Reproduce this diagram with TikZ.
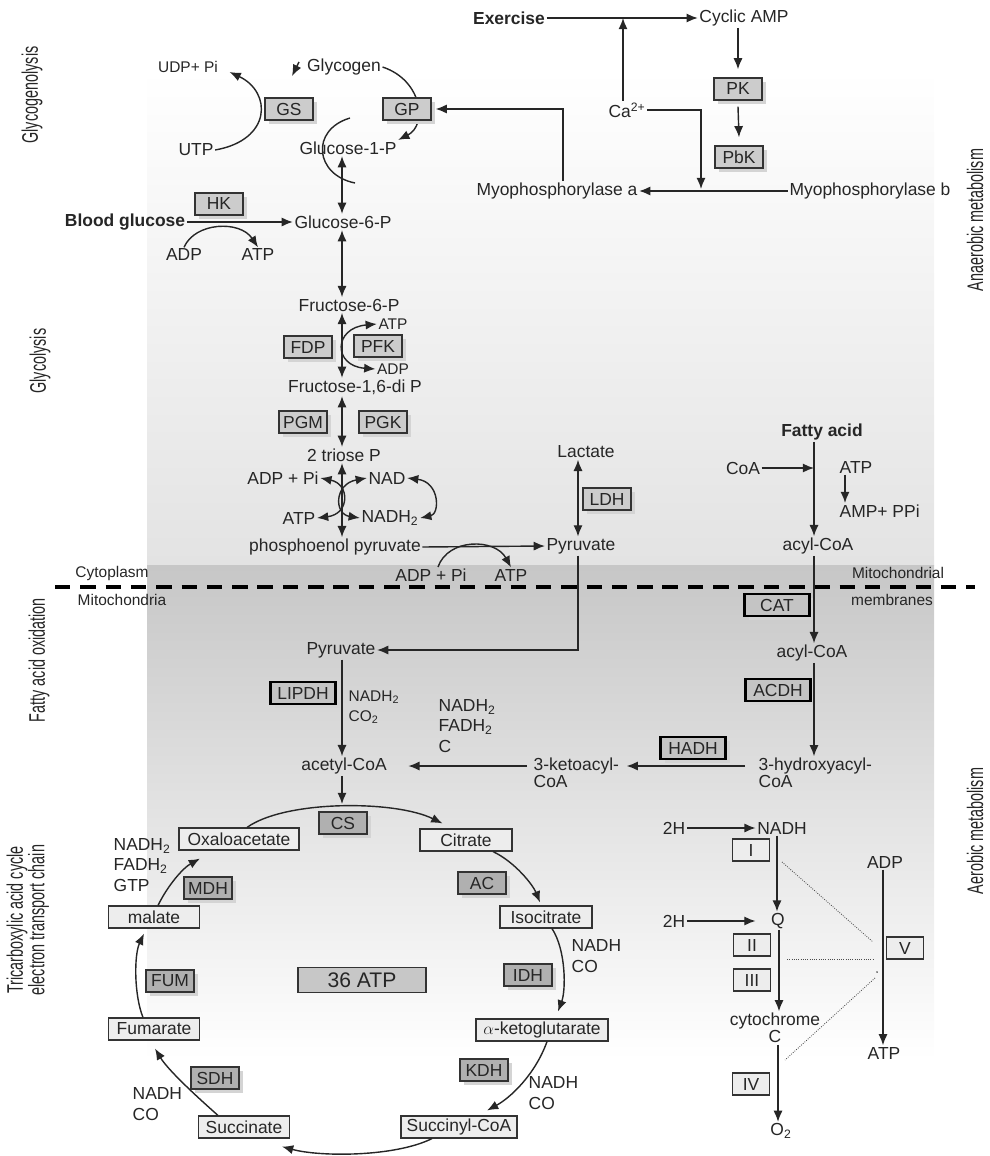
\documentclass[tikz,border=0pt]{standalone}
\usepackage{fontspec}
\setmainfont{Liberation Sans}
\usepackage{graphicx}
\usetikzlibrary{arrows.meta,positioning,shadows,calc}
\newcommand{\fmain}{\fontsize{12.4}{14.5}\selectfont}
\newcommand{\fsmall}{\fontsize{11}{14}\selectfont}
\newcommand{\fside}{\fontsize{16}{12}\selectfont}
\newcommand{\narrow}[1]{\scalebox{0.64}[1]{#1}}
\colorlet{ink}{black!85}

\begin{document}
\begin{tikzpicture}[x=0.025cm,y=-0.025cm,
  lbl/.style={inner sep=1pt,font=\fmain,text=ink},
  sml/.style={inner sep=1pt,font=\fsmall,text=ink},
  bld/.style={inner sep=1pt,font=\fmain\bfseries,text=ink},
  side/.style={rotate=90,inner sep=0pt,font=\fside,text=ink},
  enz/.style={draw=black!80,line width=0.9pt,fill=black!20,minimum width=1.2cm,minimum height=0.55cm,inner sep=1pt,font=\fmain,text=ink,
    general shadow={fill=black!17,shadow xshift=3pt,shadow yshift=-3pt}},
  enzm/.style={enz,fill=black!31},
  enzk/.style={enz,draw=black,line width=2pt,fill=black!23,minimum width=1.62cm},
  met/.style={draw=black!80,line width=0.8pt,fill=black!7,minimum height=0.55cm,inner sep=1pt,font=\fmain,text=ink},
  cplx/.style={met,minimum width=0.92cm},
  arr/.style={-{Latex[length=8pt,width=6.5pt]},line width=1pt,draw=ink},
  dbl/.style={{Latex[length=8pt,width=6.5pt]}-{Latex[length=8pt,width=6.5pt]},line width=1pt,draw=ink},
  dots/.style={densely dotted,line width=0.6pt,draw=black!70}]
  \useasboundingbox (0,0) rectangle (989,1156);
  % Background bands
  \shade[top color=white,bottom color=black!11] (147,70) rectangle (934,565);
  \shade[top color=black!22,bottom color=white] (147,565) rectangle (934,1060);
  \coordinate (dl) at (55,587); \coordinate (dr) at (975,587);
  \draw[line width=3pt,dash pattern=on 11pt off 7pt] (dl) -- (dr);
  % Side labels
  \node[side] (sgg) at (32,95) {\narrow{Glycogenolysis}};
  \node[side] (sgl) at (40,361) {\narrow{Glycolysis}};
  \node[side] (sfa) at (39,660) {\narrow{Fatty acid oxidation}};
  \node[side] (stc) at (28,920) {\narrow{\begin{tabular}{@{}c@{}}Tricarboxylic acid cycle\\electron transport chain\end{tabular}}};
  \node[side] (san) at (975,220) {\narrow{Anaerobic metabolism}};
  \node[side] (sae) at (975,831) {\narrow{Aerobic metabolism}};
  \node[sml] (cyto) at (112,573) {Cytoplasm};
  \node[sml] (mito) at (122,600) {Mitochondria};
  \node[sml] (mmb1) at (898,573) {Mitochondrial};
  \node[sml] (mmb2) at (892,600) {membranes};
  % Glycogen
  \node[sml] (udp) at (188,67) {UDP+ Pi};
  \node[lbl] (glycogen) at (344,67) {Glycogen};
  \node[lbl] (utp) at (196,150) {UTP};
  \node[lbl] (g1p) at (348,148) {Glucose-1-P};
  \draw[arr] (glycogen.east) .. controls (422,80) and (428,125) .. (g1p.north east);
  \node[enz] (gs) at (289,109) {GS};
  \node[enz] (gp) at (407,109) {GP};
  \node[enz] (hk) at (219,204) {HK};
  \node[bld] (bg) at (125,222) {Blood glucose};
  \node[lbl] (g6p) at (343,222) {Glucose-6-P};
  \node[lbl] (adp1) at (184,255) {ADP};
  \node[lbl] (atp1) at (258,255) {ATP};
  \coordinate (gsa) at (350,118); \coordinate (gsb) at (355,183);
  \draw[line width=1pt,ink] (gsa) .. controls (310,130) and (315,175) .. (gsb);
  \coordinate (gla) at (299,62); \coordinate (glb) at (292,76);
  \draw[arr] (gla) -- (glb);
  \draw[arr] (utp.east) .. controls (272,140) and (272,92) .. ($(udp.east)+(10,5)$);
  \draw[arr] (bg.east) -- (g6p.west);
  \draw[arr] (adp1.north) .. controls (195,222) and (240,220) .. (atp1.north);
  % Exercise
  \node[bld] (ex) at (509,18) {Exercise};
  \node[lbl] (camp) at (744,18) {Cyclic AMP};
  \node[lbl] (ca) at (627,110) {Ca\textsuperscript{2+}};
  \node[enz] (pk) at (738,89) {PK};
  \node[enz] (pbk) at (739,157) {PbK};
  \node[lbl] (mpa) at (557,191) {Myophosphorylase a};
  \node[lbl] (mpb) at (870,191) {Myophosphorylase b};
  \draw[arr] (ex.east) -- (camp.west);
  \coordinate (cax) at (623,0);
  \draw[arr] (ca.north -| cax) -- (ex.east -| cax);
  \coordinate (cad) at (701,189);
  \draw[arr] (ca.east) -| (cad);
  \draw[arr] (camp.south -| pk) -- ($(pk.north)+(0,-8)$);
  \draw[arr] ($(pk.south)+(0,6)$) -- ($(pbk.north)+(0,-8)$);
  \draw[arr] (mpb.west) -- (mpa.east);
  \coordinate (mpx) at (563,0);
  \draw[arr] (mpa.north -| mpx) |- ($(gp.east)+(4,0)$);
  % Glycolysis
  \node[lbl] (f6p) at (349,305) {Fructose-6-P};
  \node[sml] (atp2) at (393,324) {ATP};
  \node[enz] (fdp) at (308,347) {FDP};
  \node[enz] (pfk) at (378,346) {PFK};
  \node[sml] (adp2) at (393,369) {ADP};
  \node[lbl] (f16p) at (355,387) {Fructose-1,6-di P};
  \node[enz] (pgm) at (303,422) {PGM};
  \node[enz] (pgk) at (383,422) {PGK};
  \node[lbl] (tri) at (344,455) {2 triose P};
  \node[lbl] (adppi) at (283,478) {ADP + Pi};
  \node[lbl] (nad) at (387,478) {NAD};
  \node[lbl] (atp3) at (299,518) {ATP};
  \node[lbl] (nadh) at (390,518) {NADH\textsubscript{2}};
  \node[lbl] (pep) at (335,547) {phosphoenol pyruvate};
  \node[lbl] (adppi2) at (431,575) {ADP + Pi};
  \node[lbl] (atp4) at (511,575) {ATP};
  \node[lbl] (pyr) at (581,546) {Pyruvate};
  \node[lbl] (lac) at (586,452) {Lactate};
  \node[enz] (ldh) at (607,499) {LDH};
  \coordinate (ax) at (342,0);
  \draw[dbl] (g1p.south -| ax) -- (g6p.north -| ax);
  \draw[dbl] (g6p.south -| ax) -- (f6p.north -| ax);
  \draw[dbl] (f6p.south -| ax) -- (f16p.north -| ax);
  \draw[dbl] (f16p.south -| ax) -- (tri.north -| ax);
  \draw[dbl] (tri.south -| ax) -- (pep.north -| ax);
  \draw[dbl] (atp2.west) .. controls (333,328) and (333,366) .. (adp2.west);
  \draw[dbl] (adppi.east) .. controls (350,484) and (350,514) .. (atp3.east);
  \draw[dbl] (nad.west) .. controls (334,484) and (334,514) .. (nadh.west);
  \draw[dbl] (nad.east) .. controls (440,482) and (440,514) .. (nadh.east);
  \draw[arr] (pep.east) -- (pyr.west);
  \draw[arr] ($(adppi2.north)+(7,0)$) .. controls (448,538) and (495,538) .. (atp4.north);
  \coordinate (pyx) at (578,0);
  \draw[dbl] (lac.south -| pyx) -- (pyr.north -| pyx);
  % Fatty acid
  \node[bld] (fa) at (822,432) {Fatty acid};
  \node[lbl] (coa) at (743,468) {CoA};
  \node[lbl,anchor=west] (atp5) at (838,467) {ATP};
  \node[lbl,anchor=west] (amp) at (838,511) {AMP+ PPi};
  \node[lbl] (acyl) at (818,546) {acyl-CoA};
  \node[enzk] (cat) at (777,605) {CAT};
  \node[lbl] (acylm) at (812,653) {acyl-CoA};
  \node[enzk] (acdh) at (778,690) {ACDH};
  \node[lbl,anchor=west,align=left,font=\fontsize{12.4}{10}\selectfont] (hyd) at (757,773) {3-hydroxyacyl-\\CoA};
  \node[enzk] (hadh) at (693,748) {HADH};
  \node[lbl,anchor=west,align=left,font=\fontsize{12.4}{10}\selectfont] (keto) at (532,773) {3-ketoacyl-\\CoA};
  \coordinate (fax) at (814,0);
  \draw[arr] (fa.south -| fax) -- (acyl.north -| fax);
  \draw[arr] (coa.east) -- (coa.east -| fax);
  \coordinate (ampx) at (845,0);
  \draw[arr] (atp5.south -| ampx) -- (amp.north -| ampx);
  \draw[arr] (acyl.south -| fax) -- (acylm.north -| fax);
  \draw[arr] (acylm.south -| fax) -- (hyd.north -| fax);
  % Pyruvate oxidation
  \node[lbl] (pyrm) at (341,650) {Pyruvate};
  \node[enzk] (lipdh) at (303,693) {LIPDH};
  \node[sml,anchor=west,align=left] (red1) at (347,707) {NADH\textsubscript{2}\\CO\textsubscript{2}};
  \node[lbl,anchor=west,align=left] (red2) at (437,726) {NADH\textsubscript{2}\\FADH\textsubscript{2}\\C};
  \node[lbl] (acetyl) at (344,766) {acetyl-CoA};
  \draw[arr] (pyr.south -| pyx) |- (pyrm.east);
  \draw[arr] (pyrm.south -| ax) -- (acetyl.north -| ax);
  \coordinate (hky) at (0,766);
  \draw[arr] ($(hyd.west |- hky)+(-12,0)$) -- ($(keto.east |- hky)+(6,0)$);
  \draw[arr] ($(keto.west |- hky)+(-5,0)$) -- ($(acetyl.east)+(20,0)$);
  \coordinate (cstop) at (342,804);
  \draw[arr] (acetyl.south -| ax) -- (cstop);
  % TCA cycle
  \node[met,minimum width=3cm] (oaa) at (239,839) {Oxaloacetate};
  \node[enzm] (cs) at (343,823) {CS};
  \node[met,minimum width=2.3cm] (cit) at (466,840) {Citrate};
  \node[enzm] (ac) at (482,883) {AC};
  \node[met,minimum width=2.3cm] (iso) at (546,917) {Isocitrate};
  \node[lbl,anchor=west,align=left] (red3) at (570,956) {NADH\\CO};
  \node[enzm] (idh) at (528,975) {IDH};
  \node[met,minimum width=3.3cm] (akg) at (542,1030) {$\alpha$-ketoglutarate};
  \node[enzm] (kdh) at (484,1070) {KDH};
  \node[lbl,anchor=west,align=left] (red4) at (527,1093) {NADH\\CO};
  \node[met,minimum width=2.9cm] (scoa) at (459,1127) {Succinyl-CoA};
  \node[met,minimum width=2.28cm] (succ) at (244,1127) {Succinate};
  \node[enzm] (sdh) at (215,1078) {SDH};
  \node[lbl,anchor=west,align=left] (red5) at (131,1104) {NADH\\CO};
  \node[met,minimum width=2.28cm] (fum) at (154,1029) {Fumarate};
  \node[enzm] (fumase) at (170,981) {FUM};
  \node[met,minimum width=2.28cm] (mal) at (154,917) {malate};
  \node[enzm] (mdh) at (208,888) {MDH};
  \node[lbl,anchor=west,align=left] (red6) at (112,865) {NADH\textsubscript{2}\\FADH\textsubscript{2}\\GTP};
  \node[draw=black!80,line width=0.9pt,fill=black!22,minimum width=3.2cm,minimum height=0.58cm,font=\fontsize{15}{17}\selectfont,text=ink] (atp36) at (362,980) {36 ATP};
  \draw[arr] ($(oaa.north)+(8,0)$) .. controls (285,800) and (395,800) .. ($(cit.north west)+(23,-5)$);
  \draw[arr] ($(cit.south)+(27,0)$) .. controls (515,862) and (533,885) .. ($(iso.north)+(-6,-3)$);
  \draw[arr] ($(iso.south)+(6,0)$) .. controls (566,950) and (566,990) .. ($(akg.north)+(16,-7)$);
  \draw[arr] ($(akg.south)+(5,0)$) .. controls (535,1075) and (510,1098) .. ($(scoa.north)+(28,-5)$);
  \draw[arr] ($(scoa.south)+(-27,0)$) .. controls (395,1157) and (320,1157) .. ($(succ.south)+(38,8)$);
  \draw[arr] ($(succ.north)+(-26,0)$) .. controls (195,1095) and (168,1070) .. ($(fum.south)+(1,8)$);
  \draw[arr] ($(fum.north)+(-11,0)$) .. controls (134,995) and (134,955) .. ($(mal.south)+(-10,5)$);
  \draw[arr] ($(mal.north)+(4,0)$) .. controls (168,885) and (183,868) .. ($(oaa.south)+(-39,8)$);
  % Electron transport chain
  \node[lbl] (h2a) at (674,828) {2H};
  \node[lbl] (nadhe) at (782,828) {NADH};
  \node[cplx] (c1) at (751,850) {I};
  \node[lbl] (h2b) at (674,921) {2H};
  \node[lbl] (q) at (778,921) {Q};
  \node[cplx] (c2) at (752,945) {II};
  \node[cplx] (c3) at (752,980) {III};
  \node[lbl,align=center,font=\fontsize{12.4}{10}\selectfont] (cyt) at (775,1028) {cytochrome\\C};
  \node[cplx] (c4) at (751,1084) {IV};
  \node[lbl] (o2) at (781,1131) {O\textsubscript{2}};
  \node[lbl] (adpe) at (885,862) {ADP};
  \node[cplx] (c5) at (905,948) {V};
  \node[lbl] (atpe) at (884,1053) {ATP};
  \draw[arr] (h2a.east) -- (nadhe.west);
  \coordinate (ex1) at (777,0);
  \draw[arr] (nadhe.south -| ex1) -- (q.north -| ex1);
  \draw[arr] (h2b.east) -- ($(q.west)+(-14,0)$);
  \coordinate (ex2) at (779,0);
  \draw[arr] (q.south -| ex2) -- (cyt.north -| ex2);
  \coordinate (ex3) at (778,0);
  \draw[arr] (cyt.south -| ex3) -- (o2.north -| ex3);
  \coordinate (ex4) at (883,0);
  \draw[arr] (adpe.south -| ex4) -- (atpe.north -| ex4);
  % Coupling to ATP synthase
  \coordinate (da1) at (782,862); \coordinate (da2) at (873,942);
  \coordinate (db1) at (787,959); \coordinate (db2) at (874,959);
  \coordinate (dc1) at (875,978); \coordinate (dc2) at (785,1060);
  \coordinate (dd) at (877,972);
  \draw[dots] (da1) -- (da2);
  \draw[dots] (db1) -- (db2);
  \draw[dots] (dc1) -- (dc2);
  \fill[black!70] (dd) circle (0.7pt);
\end{tikzpicture}
\end{document}
